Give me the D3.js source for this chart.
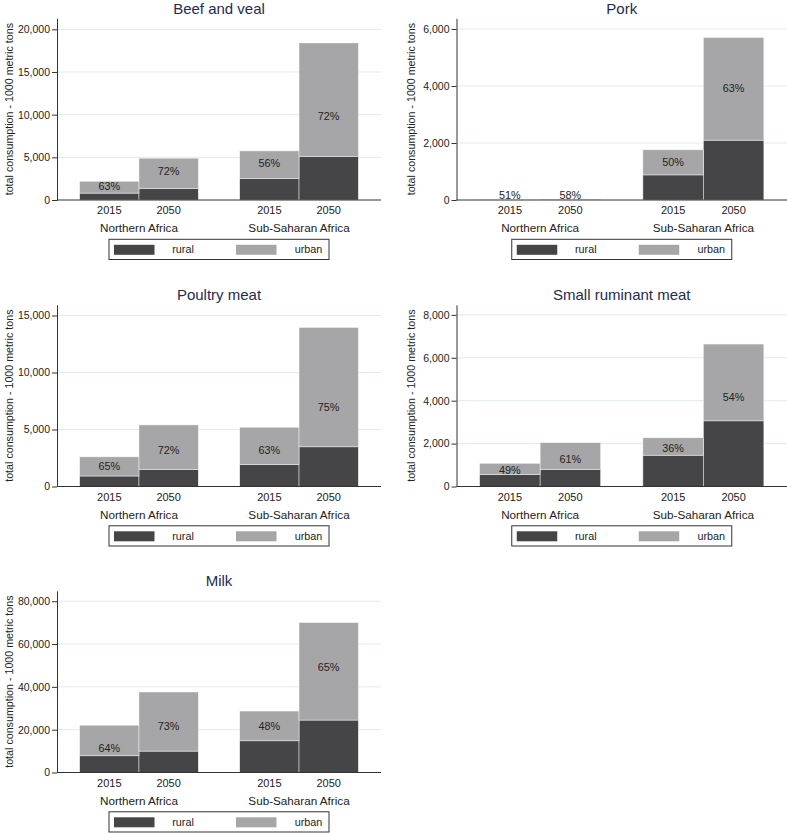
<!DOCTYPE html>
<html>
<head>
<meta charset="utf-8">
<script src="https://cdn.jsdelivr.net/npm/d3@7"></script>
<style>
  html, body { margin: 0; padding: 0; background: #fff; }
  svg { display: block; font-family: "Liberation Sans", Arial, Helvetica, sans-serif; }
</style>
</head>
<body>
<script>
// ---------------- data ----------------
const regions = ["Northern Africa", "Sub-Saharan Africa"];
const years = ["2015", "2050"];
const products = ["Beef and veal", "Pork", "Poultry meat", "Small ruminant meat", "Milk"];
const seriesNames = ["rural", "urban"];

// order of bars: NA 2015, NA 2050, SSA 2015, SSA 2050 (1000 metric tons)
const ruralValues = [
  [810, 1370, 2540, 5120],
  [8, 9, 880, 2100],
  [920, 1510, 1940, 3480],
  [550, 800, 1460, 3060],
  [7800, 10000, 14800, 24500]
];
const urbanValues = [
  [1390, 3530, 3210, 13280],
  [8, 12, 880, 3600],
  [1680, 3890, 3260, 10470],
  [530, 1240, 810, 3580],
  [14300, 27600, 13900, 45500]
];
// urban share labels (%)
const urbanShare = [
  [63, 72, 56, 72],
  [51, 58, 50, 63],
  [65, 72, 63, 75],
  [49, 61, 36, 54],
  [64, 73, 48, 65]
];
// vertical anchor of each share label (in data units)
const labelAt = [
  [1640, 3400, 4300, 9880],
  [175, 175, 1344, 3919],
  [1816, 3219, 3219, 6930],
  [778, 1277, 1772, 4149],
  [11560, 21760, 21760, 49340]
];
const yTicks = [
  [0, 5000, 10000, 15000, 20000],
  [0, 2000, 4000, 6000],
  [0, 5000, 10000, 15000],
  [0, 2000, 4000, 6000, 8000],
  [0, 20000, 40000, 60000, 80000]
];
const yAxisMax = [21290, 6375, 15940, 8470, 84870];
const yTitle = "total consumption - 1000 metric tons";

// ---------------- style ----------------
const colRural = "#454548";
const colUrban = "#a6a6a8";
const colors = [colRural, colUrban];
const gridColor = "#e0ebed";
const axisColor = "#333333";
const titleColor = "#232c4e";
const textColor = "#222222";

const W = 787, H = 833;
const svg = d3.select("body").append("svg").attr("width", W).attr("height", H);

const colAxisX = [57, 456.5];
const colRight = [381, 787];
const colYTitleX = [9.5, 411];
const rowBase = [200, 486.5, 772.5];
const plotH = 181.7;

products.forEach((prod, i) => {
  const col = i % 2, row = Math.floor(i / 2);
  const axisX = colAxisX[col], rightX = colRight[col];
  const base = rowBase[row], top = base - plotH;
  const g = svg.append("g");

  const y = d3.scaleLinear().domain([0, yAxisMax[i]]).range([base, top]);
  const x0 = d3.scaleBand().domain(regions).range([axisX, rightX])
    .paddingInner(0.259).paddingOuter(0.1417);
  const x1 = d3.scaleBand().domain(years).range([0, x0.bandwidth()]);

  // gridlines
  g.append("g").selectAll("line").data(yTicks[i].filter(t => t > 0)).join("line")
    .attr("x1", axisX).attr("x2", rightX)
    .attr("y1", d => y(d)).attr("y2", d => y(d))
    .attr("stroke", gridColor).attr("stroke-width", 1);

  // bars
  const bars = [];
  regions.forEach((r, ri) => years.forEach((yr, yi) => {
    const k = ri * 2 + yi;
    bars.push({ r, yr, k, rural: ruralValues[i][k], urban: urbanValues[i][k] });
  }));
  const stack = d3.stack().keys(seriesNames)(bars);
  stack.forEach((layer, li) => {
    g.append("g").selectAll("rect").data(layer).join("rect")
      .attr("x", d => x0(d.data.r) + x1(d.data.yr))
      .attr("width", x1.bandwidth())
      .attr("y", d => y(d[1]))
      .attr("height", d => Math.max(0, y(d[0]) - y(d[1])))
      .attr("fill", colors[li])
      .attr("stroke", "#f4f4f4").attr("stroke-width", 0.5);
  });

  // share labels
  g.append("g").selectAll("text").data(bars).join("text")
    .attr("x", d => x0(d.r) + x1(d.yr) + x1.bandwidth() / 2)
    .attr("y", d => y(labelAt[i][d.k]))
    .attr("dy", "0.36em")
    .attr("text-anchor", "middle")
    .attr("font-size", 10.8).attr("fill", textColor)
    .text(d => urbanShare[i][d.k] + "%");

  // y axis
  const yAxis = d3.axisLeft(y).tickValues(yTicks[i]).tickSize(5).tickSizeOuter(0)
    .tickPadding(2).tickFormat(d3.format(","));
  const ya = g.append("g").attr("transform", `translate(${axisX},0)`).call(yAxis);
  ya.select(".domain").attr("stroke", axisColor);
  ya.selectAll(".tick line").attr("stroke", axisColor);
  ya.selectAll(".tick text").attr("font-size", 10.5).attr("fill", textColor)
    .attr("font-family", "Liberation Sans, Arial, sans-serif");

  // x baseline
  g.append("line").attr("x1", axisX).attr("x2", rightX).attr("y1", base).attr("y2", base)
    .attr("stroke", axisColor).attr("stroke-width", 1);

  // year labels
  g.append("g").selectAll("text").data(bars).join("text")
    .attr("x", d => x0(d.r) + x1(d.yr) + x1.bandwidth() / 2)
    .attr("y", base + 14)
    .attr("text-anchor", "middle").attr("font-size", 11).attr("fill", textColor)
    .text(d => d.yr);
  // region labels
  g.append("g").selectAll("text").data(regions).join("text")
    .attr("x", d => x0(d) + x0.bandwidth() / 2)
    .attr("y", base + 32)
    .attr("text-anchor", "middle").attr("font-size", 11.7).attr("fill", textColor)
    .text(d => d);

  // y title
  g.append("text")
    .attr("transform", `translate(${colYTitleX[col]},${(top + base) / 2}) rotate(-90)`)
    .attr("text-anchor", "middle").attr("dy", "0.35em")
    .attr("font-size", 10.7).attr("fill", textColor)
    .text(yTitle);

  // title
  g.append("text")
    .attr("x", (axisX + rightX) / 2).attr("y", base - 186.5)
    .attr("text-anchor", "middle").attr("font-size", 15).attr("fill", titleColor)
    .text(prod);

  // legend
  const lw = 220, lh = 20.2;
  const lx = (axisX + rightX) / 2 - lw / 2, ly = base + 39.3;
  const lg = g.append("g").attr("transform", `translate(${lx},${ly})`);
  lg.append("rect").attr("width", lw).attr("height", lh)
    .attr("fill", "#fff").attr("stroke", axisColor).attr("stroke-width", 1);
  const keyX = [5, 127], textX = [74, 199.5];
  seriesNames.forEach((s, si) => {
    lg.append("rect").attr("x", keyX[si]).attr("y", 5.5).attr("width", 40.5).attr("height", 10)
      .attr("fill", colors[si]);
    lg.append("text").attr("x", textX[si]).attr("y", lh / 2).attr("dy", "0.36em")
      .attr("text-anchor", "middle").attr("font-size", 10.8).attr("fill", textColor)
      .text(s);
  });
});
</script>
</body>
</html>
